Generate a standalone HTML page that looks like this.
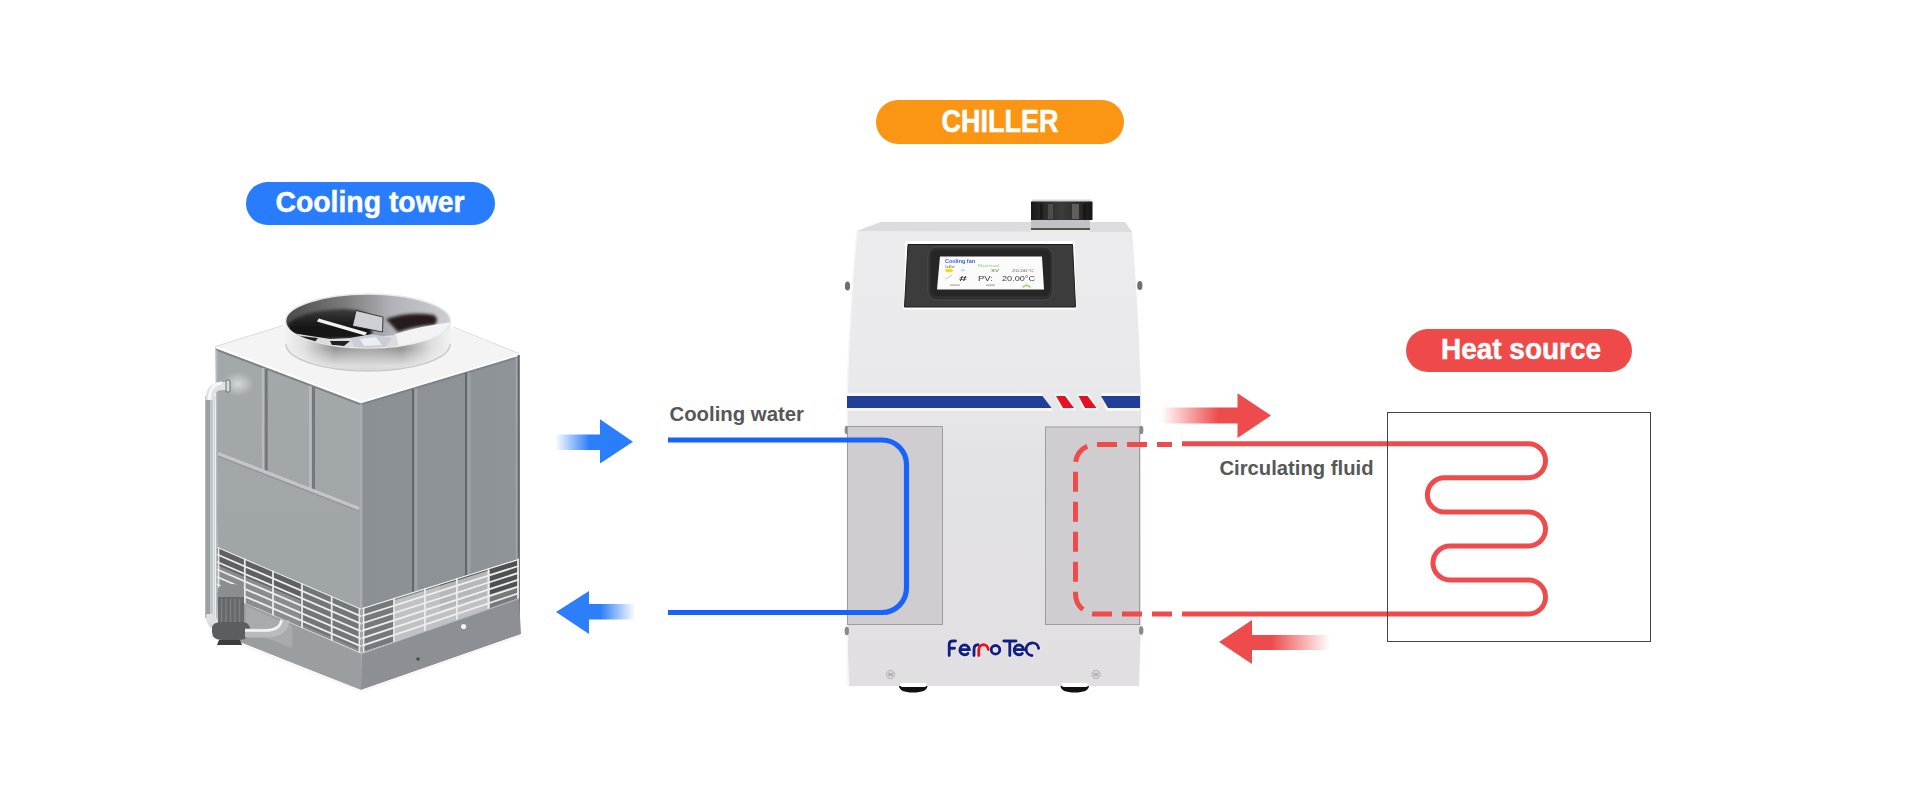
<!DOCTYPE html>
<html><head><meta charset="utf-8">
<style>
html,body{margin:0;padding:0;background:#fff;width:1920px;height:800px;overflow:hidden}
svg{display:block}
text{font-family:"Liberation Sans",sans-serif;font-weight:bold}
</style></head>
<body>
<svg width="1920" height="800" viewBox="0 0 1920 800">
<defs>
  <linearGradient id="bfadeR" x1="0" x2="1" y1="0" y2="0">
    <stop offset="0" stop-color="#2d7ff9" stop-opacity="0"/>
    <stop offset="0.75" stop-color="#2d7ff9" stop-opacity="1"/>
  </linearGradient>
  <linearGradient id="bfadeL" x1="1" x2="0" y1="0" y2="0">
    <stop offset="0" stop-color="#2d7ff9" stop-opacity="0"/>
    <stop offset="0.75" stop-color="#2d7ff9" stop-opacity="1"/>
  </linearGradient>
  <linearGradient id="rfadeR" x1="0" x2="1" y1="0" y2="0">
    <stop offset="0" stop-color="#ee4b4d" stop-opacity="0"/>
    <stop offset="0.75" stop-color="#ee4b4d" stop-opacity="1"/>
  </linearGradient>
  <linearGradient id="rfadeL" x1="1" x2="0" y1="0" y2="0">
    <stop offset="0" stop-color="#ee4b4d" stop-opacity="0"/>
    <stop offset="0.75" stop-color="#ee4b4d" stop-opacity="1"/>
  </linearGradient>
</defs>

<!-- ============ PILLS ============ -->
<rect x="876" y="100" width="248" height="44" rx="22" fill="#fa9614"/>
<text x="1000" y="132" text-anchor="middle" font-size="31" fill="#fff" stroke="#fff" stroke-width="0.6" textLength="117" lengthAdjust="spacingAndGlyphs">CHILLER</text>

<rect x="246" y="182" width="249" height="43" rx="21.5" fill="#277dfd"/>
<text x="370" y="212" text-anchor="middle" font-size="29" fill="#fff" stroke="#fff" stroke-width="0.5" textLength="189" lengthAdjust="spacingAndGlyphs">Cooling tower</text>

<rect x="1406" y="329" width="226" height="43" rx="21.5" fill="#ef4a4a"/>
<text x="1521" y="359" text-anchor="middle" font-size="29" fill="#fff" stroke="#fff" stroke-width="0.5" textLength="160" lengthAdjust="spacingAndGlyphs">Heat source</text>

<!-- ============ LABELS ============ -->
<text x="669.5" y="420.5" font-size="20" fill="#575757" textLength="134.5" lengthAdjust="spacingAndGlyphs">Cooling water</text>
<text x="1219.5" y="474.5" font-size="20.8" fill="#575757" textLength="154" lengthAdjust="spacingAndGlyphs">Circulating fluid</text>

<!-- ============ CHILLER ============ -->
<g id="chiller">
  <defs>
    <linearGradient id="cBody" x1="0" y1="0" x2="0" y2="1">
      <stop offset="0" stop-color="#ecebed"/>
      <stop offset="0.35" stop-color="#e9e8ea"/>
      <stop offset="0.5" stop-color="#e3e2e5"/>
      <stop offset="1" stop-color="#e1dfe2"/>
    </linearGradient>
    <linearGradient id="capG" x1="0" y1="0" x2="1" y2="0">
      <stop offset="0" stop-color="#1a1a1a"/>
      <stop offset="0.2" stop-color="#2a2a2a"/>
      <stop offset="0.5" stop-color="#3c3c3c"/>
      <stop offset="0.8" stop-color="#2a2a2a"/>
      <stop offset="1" stop-color="#151515"/>
    </linearGradient>
  </defs>
  <!-- cap (drawn after body) -->
  <!-- body -->
  <path d="M881,222 L1125,222 L1132,232 Q1138,300 1141,395 L1141,625 L1139,686 L849,686 L847,625 L847,395 Q850,300 857,231 Z" fill="url(#cBody)"/>
  <path d="M881,222 L1125,222 L1132,232 L857,231 Z" fill="#dcdbdd"/>
  <rect x="1032" y="199.5" width="59" height="2.5" fill="#d6d6d6"/>
  <rect x="1031" y="201.5" width="61.5" height="18.5" fill="url(#capG)"/>
  <rect x="1048" y="204" width="5" height="15" fill="#5a5a5a" opacity="0.7"/>
  <rect x="1072" y="204" width="7" height="15" fill="#6e6a6c" opacity="0.8"/>
  <rect x="1040" y="204" width="3" height="15" fill="#111" opacity="0.6"/>
  <rect x="1083" y="204" width="3" height="15" fill="#111" opacity="0.6"/>
  <rect x="1031" y="220" width="59" height="8" fill="#c2c2c4"/>
  <rect x="1031" y="228" width="59" height="2.2" fill="#55554a"/>
  <rect x="1031" y="230.2" width="59" height="1.5" fill="#f0f0f0"/>
  <path d="M857,231 Q850,300 847,395 L847,686" fill="none" stroke="#f7f7f8" stroke-width="1.5"/>
  <!-- side knobs -->
  <ellipse cx="847.5" cy="286" rx="2.6" ry="4.6" fill="#6e6e70"/>
  <ellipse cx="1139.8" cy="285.5" rx="2.6" ry="4.6" fill="#6e6e70"/>
  <ellipse cx="846.8" cy="430" rx="2.2" ry="4.2" fill="#8a8a8c"/>
  <ellipse cx="1141.2" cy="430" rx="2.2" ry="4.2" fill="#8a8a8c"/>
  <ellipse cx="846.8" cy="631" rx="2.2" ry="4.2" fill="#8a8a8c"/>
  <ellipse cx="1141.2" cy="630.5" rx="2.2" ry="4.2" fill="#8a8a8c"/>
  <!-- screen -->
  <path d="M905.5,241 L1074.5,241 L1076.5,309.5 L903.5,309.5 Z" fill="#ffffff"/>
  <path d="M908,244.5 L1072.5,244.5 L1075.5,307 L904.5,307 Z" fill="#3c3c3c" stroke="#1a1a1a" stroke-width="1"/>
  <rect x="928" y="247" width="125" height="53" rx="9" fill="#2f2f2f" stroke="#4a4a4a" stroke-width="1"/>
  <rect x="931" y="250" width="119" height="46" rx="6" fill="#262626"/>
  <path d="M940,256.5 L1042,256.5 L1044,289.5 L937,289.5 Z" fill="#fbfbfb"/>
  <g filter="url(#sblur)" style="font-weight:normal">
    <text x="945" y="263" font-size="4.5" fill="#3464d8" style="font-weight:bold" textLength="30" lengthAdjust="spacingAndGlyphs">Cooling fan</text>
    <text x="945" y="267.5" font-size="3.5" fill="#777" style="font-weight:normal" textLength="10" lengthAdjust="spacingAndGlyphs">Idle</text>
    <text x="978" y="267.2" font-size="3.8" fill="#86d66a" style="font-weight:normal" textLength="21" lengthAdjust="spacingAndGlyphs">Normal</text>
    <ellipse cx="949" cy="270.5" rx="4" ry="1.8" fill="#f2e000"/>
    <rect x="961" y="269.5" width="4" height="1.5" fill="#9fe3f0"/>
    <text x="991" y="272" font-size="4" fill="#666" style="font-weight:normal" textLength="8" lengthAdjust="spacingAndGlyphs">SV</text>
    <text x="1012" y="272" font-size="4" fill="#666" style="font-weight:normal" textLength="22" lengthAdjust="spacingAndGlyphs">20.00°C</text>
    <path d="M946,279 L952,275" stroke="#c8c8c8" stroke-width="1"/>
    <text x="959" y="280.5" font-size="8" fill="#2e2e2e" style="font-weight:bold" textLength="8" lengthAdjust="spacingAndGlyphs">#</text>
    <text x="978" y="281" font-size="8" fill="#3a3a3a" style="font-weight:normal" textLength="15" lengthAdjust="spacingAndGlyphs">PV:</text>
    <text x="1002" y="281" font-size="8" fill="#3a3a3a" style="font-weight:normal" textLength="33" lengthAdjust="spacingAndGlyphs">20.00°C</text>
    <rect x="950" y="284.5" width="10" height="1.2" fill="#aaa"/>
    <rect x="986" y="284.5" width="9" height="1.2" fill="#aaa"/>
    <path d="M1022.5,287.5 Q1026.5,283 1030.5,287.5" fill="none" stroke="#9be07a" stroke-width="1.8"/>
  </g>
  <!-- stripe -->
  <path d="M847,393 L1041,393 L1053,411 L847,411 Z" fill="#f8f6f0"/>
  <path d="M1101,393 L1140,393 L1140,411 L1106,411 Z" fill="#f8f6f0"/>
  <path d="M1054,393.5 L1067,393.5 L1076.5,410.5 L1061,410.5 Z" fill="#e3f7fa"/>
  <path d="M1076.5,393.5 L1089.5,393.5 L1099,410.5 L1083,410.5 Z" fill="#e3f7fa"/>
  <path d="M847,396 L1042.5,396 L1051.5,408 L847,408 Z" fill="#213f96"/>
  <path d="M1056,396 L1065,396 L1074,408 L1063,408 Z" fill="#e8101e"/>
  <path d="M1078.5,396 L1087.5,396 L1096.5,408 L1085,408 Z" fill="#e8101e"/>
  <path d="M1101,396 L1140,396 L1140,408 L1108,408 Z" fill="#213f96"/>
  <!-- panels -->
  <rect x="847.5" y="426.5" width="95" height="198" fill="#cfcdd0" stroke="#9d9c9e" stroke-width="1"/>
  <rect x="1045.5" y="427" width="94" height="197.5" fill="#cfcdd0" stroke="#9d9c9e" stroke-width="1"/>
  <!-- logo -->
  <g fill="none" stroke="#fffbea" stroke-width="4" stroke-linecap="round" opacity="0.8">
    <path d="M955.5,641 L952.5,641 Q949.2,641 949.2,644.5 L949.2,655.5 M949.2,648.3 L954.5,648.3"/>
    <path d="M959.9,649.6 L969.3,649.6 A4.7,4.9 0 1 0 967.9,653.4"/>
    <path d="M974,655.5 L974,649.5 Q974,644.8 978,644.8"/>
    <path d="M978.8,655.5 L978.8,649.6 A4.7,4.8 0 0 1 988.2,649.6"/>
    <circle cx="995.5" cy="649.8" r="4.3"/>
    <path d="M1003.8,641 L1016,641 M1009.8,641 L1009.8,655.5"/>
    <path d="M1014.2,649.6 L1023.6,649.6 A4.7,4.9 0 1 0 1022.2,653.4"/>
    <path d="M1038.6,648.2 A6.3,6.3 0 1 0 1032,655.5"/>
  </g>
  <g fill="none" stroke="#0f1f86" stroke-width="2.9" stroke-linecap="round">
    <path d="M955.5,641 L952.5,641 Q949.2,641 949.2,644.5 L949.2,655.5 M949.2,648.3 L954.5,648.3"/>
    <path d="M959.9,649.6 L969.3,649.6 A4.7,4.9 0 1 0 967.9,653.4"/>
    <path d="M974,655.5 L974,649.5 Q974,644.8 978,644.8"/>
    <circle cx="995.5" cy="649.8" r="4.3"/>
    <path d="M1003.8,641 L1016,641 M1009.8,641 L1009.8,655.5"/>
    <path d="M1014.2,649.6 L1023.6,649.6 A4.7,4.9 0 1 0 1022.2,653.4"/>
    <path d="M1038.6,648.2 A6.3,6.3 0 1 0 1032,655.5"/>
  </g>
  <path d="M978.8,655.5 L978.8,649.6 A4.7,4.8 0 0 1 988.2,649.6" fill="none" stroke="#e8101e" stroke-width="2.9" stroke-linecap="round"/>
  <!-- feet + screws -->
  <path d="M899,686 L927.5,686 Q927,692.5 913,692.5 Q899.5,692.5 899,686 Z" fill="#111"/>
  <path d="M1060.5,686 L1089,686 Q1088.5,692.5 1074.8,692.5 Q1061,692.5 1060.5,686 Z" fill="#111"/>
  <path d="M900.5,683 L926,683 Q927,686 925,687 L902,687 Q899.5,686 900.5,683 Z" fill="#fff"/>
  <path d="M1062,683 L1087.5,683 Q1088.5,686 1086.5,687 L1063.5,687 Q1061,686 1062,683 Z" fill="#fff"/>
  <circle cx="890.5" cy="674.5" r="4.2" fill="#d6d6d8" stroke="#a9a9ab" stroke-width="0.8"/><path d="M888,673 L893,676 M893,673 L888,676" stroke="#8a8a8c" stroke-width="0.8"/>
  <circle cx="1096" cy="674.5" r="4.2" fill="#d6d6d8" stroke="#a9a9ab" stroke-width="0.8"/><path d="M1093.5,673 L1098.5,676 M1098.5,673 L1093.5,676" stroke="#8a8a8c" stroke-width="0.8"/>
</g>

<!-- ============ BLUE LOOP ============ -->
<path d="M668,440 L882,440 A24.5,24.5 0 0 1 906.5,464.5 L906.5,588 A24.5,24.5 0 0 1 882,612.5 L668,612.5" fill="none" stroke="#1863fd" stroke-width="5.2"/>
<!-- blue arrows -->
<rect x="555" y="434.5" width="46" height="15.5" fill="url(#bfadeR)"/>
<path d="M600,419.2 L633,441.8 L600,463.5 Z" fill="#2b7efb"/>
<rect x="589" y="604" width="46" height="15.5" fill="url(#bfadeL)"/>
<path d="M589,591 L556,612 L589,634 Z" fill="#2d7ff9"/>

<!-- ============ RED LOOP ============ -->
<path d="M1182,444.5 L1095.5,444.5 A20,20 0 0 0 1075.5,464.5 L1075.5,529" fill="none" stroke="#ee4b4d" stroke-width="5" stroke-dasharray="0 10 15 10 20 10 20 10 20 10 20 10 20 10 20 10 20 10 20 10"/>
<path d="M1182,614 L1095.5,614 A20,20 0 0 1 1075.5,594 L1075.5,529" fill="none" stroke="#ee4b4d" stroke-width="5" stroke-dasharray="20 10" stroke-dashoffset="20"/>
<path d="M1182,443.8 L1528.5,443.8 A17,17 0 0 1 1528.5,477.8 L1444.5,477.8 A17,17 0 0 0 1444.5,512 L1528.5,512 A17,17 0 0 1 1528.5,546 L1450,546 A17,17 0 0 0 1450,580 L1528.5,580 A17,17 0 0 1 1528.5,614 L1182,614" fill="none" stroke="#ee4b4d" stroke-width="5"/>
<rect x="1387.5" y="412.5" width="263" height="229" fill="none" stroke="#454545" stroke-width="1"/>
<!-- red arrows -->
<rect x="1161" y="407.5" width="77" height="16" fill="url(#rfadeR)"/>
<path d="M1237.5,393.2 L1271,415.5 L1237.5,438 Z" fill="#ee4b4d"/>
<rect x="1252" y="635" width="78" height="15" fill="url(#rfadeL)"/>
<path d="M1252,620 L1219,642 L1252,664 Z" fill="#ee4b4d"/>

<!-- ============ COOLING TOWER ============ -->
<g id="tower">
  <defs>
    <linearGradient id="tLeft" x1="0" y1="0" x2="0" y2="1">
      <stop offset="0" stop-color="#a3a8ab"/>
      <stop offset="1" stop-color="#9ea3a6"/>
    </linearGradient>
    <linearGradient id="tRight" x1="0" y1="0" x2="1" y2="0">
      <stop offset="0" stop-color="#8b9094"/>
      <stop offset="1" stop-color="#8f9498"/>
    </linearGradient>
    <linearGradient id="shroud" x1="0" y1="0" x2="0" y2="1">
      <stop offset="0" stop-color="#8a8a8a"/>
      <stop offset="0.56" stop-color="#8c8c8c"/>
      <stop offset="0.72" stop-color="#b4b4b4"/>
      <stop offset="0.9" stop-color="#dcdcdc"/>
      <stop offset="1" stop-color="#d2d2d2"/>
    </linearGradient>
    <linearGradient id="shroudX" x1="0" y1="0" x2="1" y2="0">
      <stop offset="0" stop-color="#f2f2f2" stop-opacity="1"/>
      <stop offset="0.12" stop-color="#f2f2f2" stop-opacity="0.8"/>
      <stop offset="0.3" stop-color="#f2f2f2" stop-opacity="0.1"/>
      <stop offset="0.5" stop-color="#d8d8d8" stop-opacity="0.35"/>
      <stop offset="0.7" stop-color="#f2f2f2" stop-opacity="0.1"/>
      <stop offset="0.88" stop-color="#f2f2f2" stop-opacity="0.8"/>
      <stop offset="1" stop-color="#f2f2f2" stop-opacity="1"/>
    </linearGradient>
    <linearGradient id="fanIn" x1="0" y1="0" x2="1" y2="0">
      <stop offset="0" stop-color="#4a4a4a"/>
      <stop offset="0.35" stop-color="#7a7a7a"/>
      <stop offset="0.65" stop-color="#b2b2b8"/>
      <stop offset="1" stop-color="#cdcdd3"/>
    </linearGradient>
    <filter id="sblur" x="-10%" y="-10%" width="120%" height="120%"><feGaussianBlur stdDeviation="0.35"/></filter>
    <linearGradient id="fanDark" x1="0" y1="0" x2="0" y2="1">
      <stop offset="0" stop-color="#3c3c3c"/>
      <stop offset="0.5" stop-color="#1a1a1a"/>
      <stop offset="1" stop-color="#111"/>
    </linearGradient>
    <filter id="fblur" x="-20%" y="-20%" width="140%" height="140%"><feGaussianBlur stdDeviation="1.5"/></filter>
    <radialGradient id="glow" cx="0.5" cy="0.5" r="0.5">
      <stop offset="0" stop-color="#ffffff" stop-opacity="0.55"/>
      <stop offset="1" stop-color="#ffffff" stop-opacity="0"/>
    </radialGradient>
    <clipPath id="fanClip"><ellipse cx="368" cy="321" rx="82" ry="26.5"/></clipPath>
    <clipPath id="lgClip"><path d="M217,546.5 L361,608.6 L361,653.8 L217,591.5 Z"/></clipPath>
    <clipPath id="rgClip"><path d="M362,608 L519,558.5 L519,598.5 L362,653.5 Z"/></clipPath>
  </defs>
  <!-- left face -->
  <path d="M215.5,346.5 L360.5,401.5 L360.5,690 L218,633 Z" fill="url(#tLeft)"/>
  <ellipse cx="238" cy="384" rx="16" ry="12" fill="url(#glow)"/>
  <!-- right face -->
  <path d="M360.5,401.5 L519,353.5 L520,634 L360.5,690 Z" fill="url(#tRight)"/>
  <!-- top face -->
  <path d="M215.5,346.5 L374,298.5 L519,353.5 L360.5,401.5 Z" fill="#f4f4f4"/>
  <path d="M216,349.5 L361,404.5 L519,357" fill="none" stroke="#7f8488" stroke-width="2"/>
  <path d="M216,347.2 L361,402.2 L519,354.6" fill="none" stroke="#ffffff" stroke-width="2.2"/>
  <path d="M215.5,346.5 L283,325.5 M453,327 L519,353.5" fill="none" stroke="#dcdcdc" stroke-width="1"/>
  <!-- edges -->
  <path d="M216.5,350 L216.5,633" stroke="#b9bdc0" stroke-width="1.5"/>
  <path d="M361.3,404 L361.3,689" stroke="#a9adb1" stroke-width="2"/>
  <path d="M518.8,355 L518.8,634" stroke="#62676b" stroke-width="2"/>
  <path d="M516.5,357 L516.5,600" stroke="#a3a7ab" stroke-width="1.5"/>
  <!-- left ribs -->
  <path d="M263.2,368 L263.2,472" stroke="#b7bbbe" stroke-width="2.5"/>
  <path d="M266.2,369 L266.2,473" stroke="#73787c" stroke-width="3"/>
  <path d="M310.3,386 L310.3,490" stroke="#b7bbbe" stroke-width="2.5"/>
  <path d="M313.5,387 L313.5,491" stroke="#73787c" stroke-width="3"/>
  <path d="M218,453.5 L359,508.5" stroke="#c2c6c9" stroke-width="3.2"/>
  <path d="M218,456.2 L359,511.2" stroke="#93979b" stroke-width="1.2"/>
  <!-- right ribs -->
  <path d="M413,389 L413,592" stroke="#62676b" stroke-width="2"/>
  <path d="M416,388.5 L416,592" stroke="#9da1a5" stroke-width="3"/>
  <path d="M466,373 L466,575" stroke="#62676b" stroke-width="2"/>
  <path d="M469,372.5 L469,575" stroke="#9da1a5" stroke-width="3"/>
  <!-- left grille -->
  <g clip-path="url(#lgClip)">
    <rect x="210" y="540" width="160" height="120" fill="#8a8d90"/>
    <path d="M217,546 L300,582 L300,600 L217,565 Z" fill="#3a3c3e" opacity="0.55"/>
    <path d="M300,582 L361,608 L361,650 L300,624 Z" fill="#6d7073" opacity="0.8"/>
    <g stroke="#eeeeee" stroke-width="1.8"><path d="M214,545.6 L365,610.5"/><path d="M214,553.1 L365,618.0"/><path d="M214,560.6 L365,625.5"/><path d="M214,568.1 L365,633.0"/><path d="M214,575.6 L365,640.5"/><path d="M214,583.1 L365,648.0"/><path d="M214,590.6 L365,655.5"/></g>
    <g stroke="#e9e9e9" stroke-width="1.8">
      <path d="M218.5,540 L218.5,660"/><path d="M244.8,540 L244.8,660"/><path d="M273,540 L273,660"/><path d="M302,540 L302,660"/><path d="M331.7,540 L331.7,660"/><path d="M359.5,540 L359.5,660"/>
    </g>
  </g>
  <!-- right grille -->
  <g clip-path="url(#rgClip)">
    <rect x="355" y="550" width="170" height="110" fill="#75797c"/>
    <path d="M440,575 L519,550 L519,585 L440,610 Z" fill="#3d4043" opacity="0.7"/>
    <path d="M395,600 L490,570 L490,610 L395,645 Z" fill="#d8dadc" opacity="0.75"/>
    <g stroke="#efefef" stroke-width="1.8"><path d="M359,609.3 L523,557.8"/><path d="M359,616.8 L523,564.6"/><path d="M359,624.3 L523,571.4"/><path d="M359,631.8 L523,578.2"/><path d="M359,639.3 L523,585.0"/><path d="M359,646.8 L523,591.8"/><path d="M359,654.4 L523,598.6"/></g>
    <g stroke="#ebebeb" stroke-width="1.8">
      <path d="M363.5,550 L363.5,660"/><path d="M394,550 L394,660"/><path d="M425,550 L425,660"/><path d="M456.9,550 L456.9,660"/><path d="M488.4,550 L488.4,660"/><path d="M518,550 L518,660"/>
    </g>
  </g>
  <!-- plinth -->
  <path d="M217,591.5 L361,653.8 L361,690 L218,633 Z" fill="#9a9ea1"/>
  <path d="M362,653.5 L519,598.5 L521,634 L361,690 Z" fill="#8c9094"/>
  <path d="M362,653.5 L519,598.5" stroke="#b5b8bb" stroke-width="1.2"/>
  <path d="M222,637 L361,691 L521,635.5" fill="none" stroke="#f6f6f6" stroke-width="2.2"/>
  <circle cx="463.6" cy="626.5" r="2.6" fill="#f2f2f2"/>
  <circle cx="418" cy="659" r="1.8" fill="#4a4d50"/>
  <!-- small tank behind pump -->
  <path d="M246,606 L292,626 L292,648 L246,630 Z" fill="#a7abae"/>
  <!-- pipe -->
  <path d="M210,396 L210,618" stroke="#9da1a4" stroke-width="9.5"/>
  <path d="M211,396 L211,618" stroke="#c6d4dc" stroke-width="1.5"/>
  <path d="M213.5,396 L213.5,618" stroke="#e8eaec" stroke-width="2"/>
  <path d="M209.5,400 Q209.5,386 222,386 L228,386" fill="none" stroke="#dfe2e4" stroke-width="8"/>
  <path d="M209.5,400 Q209.5,384 222,383" fill="none" stroke="#f7f7f7" stroke-width="3"/>
  <rect x="226" y="380" width="4" height="12" rx="1.5" fill="#d9dcde" stroke="#4d5154" stroke-width="0.8"/>
  <path d="M209.5,615 Q209.5,627 220,627" fill="none" stroke="#d7dadc" stroke-width="7"/>
  <!-- pump -->
  <path d="M210,614 Q210,622 220,623" fill="none" stroke="#dfe2e4" stroke-width="7"/>
  <path d="M218,589 Q218,584 231,584 Q244,584 244,589 L244,598 L218,598 Z" fill="#8a8e91"/>
  <rect x="218" y="597" width="26" height="28" fill="#65696c"/>
  <g stroke="#7d8184" stroke-width="1.4">
    <path d="M221.5,599 L221.5,623 M226,599 L226,623 M230.5,599 L230.5,623 M235,599 L235,623 M239.5,599 L239.5,623"/>
  </g>
  <path d="M212,628 Q212,622 222,622 L242,622 Q250,622 250,630 Q250,640 238,640 L222,640 Q212,640 212,632 Z" fill="#5a5e61"/>
  <path d="M219,640 L240,640 L242,645 L217,645 Z" fill="#3a3d40"/>
  <path d="M245,633 L266,633 Q284,633 285,620" fill="none" stroke="#b9bcbf" stroke-width="9"/>
  <path d="M245,630.5 L265,630.5 Q280,630.5 281.5,620" fill="none" stroke="#f5f5f5" stroke-width="2.5"/>
  <!-- fan shroud -->
  <path d="M286,321 L286,344 A82,27 0 0 0 450,344 L450,321 Z" fill="url(#shroud)"/>
  <path d="M285,321 L285,344 A83,27 0 0 0 451,344 L451,321 Z" fill="url(#shroudX)"/>
  <path d="M286,344 A82,27 0 0 0 450,344" fill="none" stroke="#c9c9c9" stroke-width="1.5"/>
  <ellipse cx="368" cy="321" rx="82.5" ry="27" fill="url(#fanIn)" stroke="#e9e9e9" stroke-width="1.6"/>
  <g clip-path="url(#fanClip)">
    <path d="M288,324 Q302,310 345,309 Q368,310 371,320 L372,338 L290,340 Z" fill="url(#fanDark)" filter="url(#fblur)"/>
    <path d="M386,319 Q410,311 434,315 Q440,320 434,325 Q415,326 398,332 Z" fill="#251c1a" filter="url(#fblur)"/>
    <path d="M395,334 Q420,326 452,322 L452,352 L388,352 Z" fill="#f3f3f3"/>
    <path d="M292,333 L330,339 L372,337 L396,335 L400,352 L292,352 Z" fill="#dcdcde"/>
    <path d="M300,336 L318,338 L314,343 L302,341 Z M330,341 L350,341 L344,346 L332,345 Z" fill="#222"/>
    <path d="M356,310.5 L383,317 L382.5,332 L352.5,326 Z" fill="#cfd0d5" stroke="#1a1a1a" stroke-width="0.8"/>
    <path d="M318.7,318.5 L367,332.5 L365,335.5 L317,321.5 Z" fill="#f2f2f2"/>
    <path d="M350,338 L372,334 L392,338 L385,348 L355,348 Z" fill="#c9cdd5"/>
    <path d="M360,339 L376,337 L382,345 L364,346 Z" fill="#eceef3"/>
  </g>
</g>
</svg>
</body></html>
